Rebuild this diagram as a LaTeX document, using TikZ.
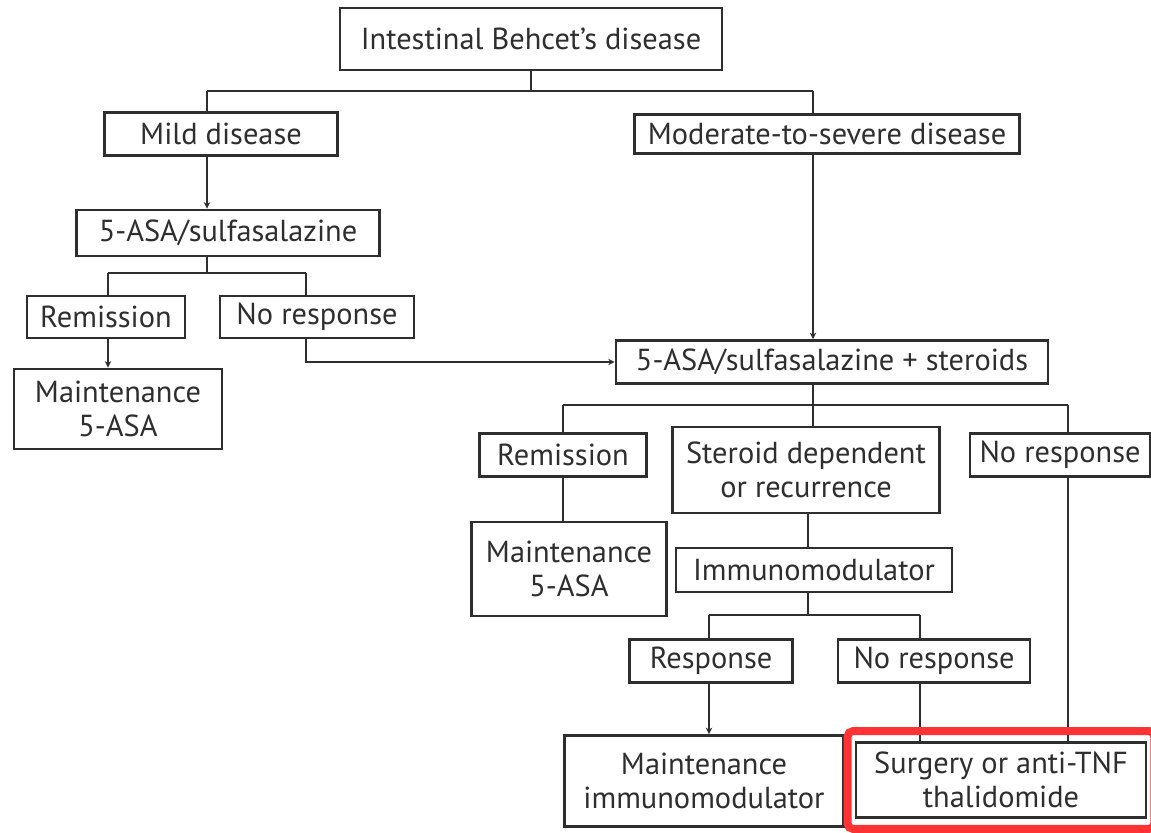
\documentclass[tikz,border=0pt]{standalone}
\usepackage{fontspec}
\setmainfont{PT Sans}
\usepackage{tikz}
\usetikzlibrary{arrows.meta, calc}
\colorlet{ink}{black!82}
\colorlet{hilite}{red!80!white}

\begin{document}
\begin{tikzpicture}[x=0.02cm, y=-0.02cm,
    >={Stealth[length=1.3mm, width=1.3mm]},
    box/.style={draw=ink, line width=1.6pt, inner sep=0pt, align=center,
      text=ink, font=\fontsize{17.3}{19.5}\selectfont},
    link/.style={draw=ink, line width=1.6pt}]

  \useasboundingbox (0,0) rectangle (1151,832);

  % --- first split: disease severity -----------------------------------------
  \node[box, minimum width=7.64cm, minimum height=1.24cm] (top) at (531,39) {Intestinal Behcet's disease};
  \node[box, minimum width=4.66cm, minimum height=0.86cm] (mild) at (221,134) {Mild disease};
  \node[box, minimum width=7.70cm, minimum height=0.78cm] (modsev) at (827,134) {Moderate-to-severe disease};

  \coordinate (sp1) at (531,91);
  \coordinate (l1) at (207,91);
  \coordinate (r1) at (813,91);
  \draw[link] (top.south) -- (sp1);
  \draw[link] (l1) -- (r1);
  \draw[link] (l1) -- (l1 |- mild.north);
  \draw[link] (r1) -- (r1 |- modsev.north);

  % --- mild branch -----------------------------------------------------------
  \node[box, minimum width=6.06cm, minimum height=0.92cm] (asa) at (228,233) {5-ASA/sulfasalazine};
  \node[box, minimum width=3.16cm, minimum height=0.84cm] (remL) at (106,317) {Remission};
  \node[box, minimum width=3.88cm, minimum height=0.84cm] (noL) at (317,317) {No response};
  \node[box, minimum width=4.16cm, minimum height=1.60cm] (mainL) at (118,409) {Maintenance\\5-ASA};

  \coordinate (sp2) at (207,273);
  \coordinate (l2) at (108,273);
  \coordinate (r2) at (306,273);
  \draw[link, ->] (l1 |- mild.south) -- (l1 |- asa.north);
  \draw[link] (sp2 |- asa.south) -- (sp2);
  \draw[link] (l2) -- (r2);
  \draw[link] (l2) -- (l2 |- remL.north);
  \draw[link] (r2) -- (r2 |- noL.north);
  \draw[link, ->] (l2 |- remL.south) -- (l2 |- mainL.north);

  % --- steroids ---------------------------------------------------------------
  \node[box, minimum width=8.64cm, minimum height=0.86cm] (ster) at (832,362) {5-ASA/sulfasalazine + steroids};

  \draw[link, ->] (r1 |- modsev.south) -- (r1 |- ster.north);
  \draw[link, ->] (r2 |- noL.south) |- (ster.west);

  % --- outcomes of steroids ---------------------------------------------------
  \node[box, minimum width=3.34cm, minimum height=0.86cm] (remR) at (563,455) {Remission};
  \node[box, minimum width=5.34cm, minimum height=1.72cm] (dep) at (806,470) {Steroid dependent\\or recurrence};
  \node[box, minimum width=3.60cm, minimum height=0.86cm] (noR) at (1060,455) {No response};
  \node[box, minimum width=3.90cm, minimum height=1.88cm] (mainR) at (569,569) {Maintenance\\5-ASA};

  \coordinate (sp3) at (813,405);
  \coordinate (l3) at (563,405);
  \coordinate (r3) at (1068,405);
  \draw[link] (sp3 |- ster.south) -- (sp3);
  \draw[link] (l3) -- (r3);
  \draw[link] (l3) -- (l3 |- remR.north);
  \draw[link] (sp3) -- (sp3 |- dep.north);
  \draw[link] (r3) -- (r3 |- noR.north);
  \draw[link] (l3 |- remR.south) -- (l3 |- mainR.north);

  % --- immunomodulator --------------------------------------------------------
  \node[box, minimum width=5.52cm, minimum height=0.88cm] (immuno) at (814,570) {Immunomodulator};
  \node[box, minimum width=3.26cm, minimum height=0.86cm] (resp) at (711,661) {Response};
  \node[box, minimum width=3.84cm, minimum height=0.86cm] (noI) at (934,661) {No response};
  \node[box, minimum width=5.58cm, minimum height=1.82cm] (mainI) at (704,781) {Maintenance\\immunomodulator};
  \node[box, minimum width=5.80cm, minimum height=1.50cm] (surg) at (1001,780) {Surgery or anti-TNF\\thalidomide};

  \coordinate (sp4) at (808,615);
  \coordinate (l4) at (709,615);
  \coordinate (r4) at (920,615);
  \draw[link] (sp4 |- dep.south) -- (sp4 |- immuno.north);
  \draw[link] (sp4 |- immuno.south) -- (sp4);
  \draw[link] (l4) -- (r4);
  \draw[link] (l4) -- (l4 |- resp.north);
  \draw[link] (r4) -- (r4 |- noI.north);
  \draw[link, ->] (l4 |- resp.south) -- (l4 |- mainI.north);
  \draw[link] (r4 |- noI.south) -- (r4 |- surg.north);
  \draw[link] (r3 |- noR.south) -- (r3 |- surg.north);

  % --- highlight frame --------------------------------------------------------
  \draw[hilite, line width=4.5pt, rounded corners=3pt]
    ([shift={(-7,-10)}]surg.north west) rectangle ([shift={(7,10)}]surg.south east);

\end{tikzpicture}
\end{document}
